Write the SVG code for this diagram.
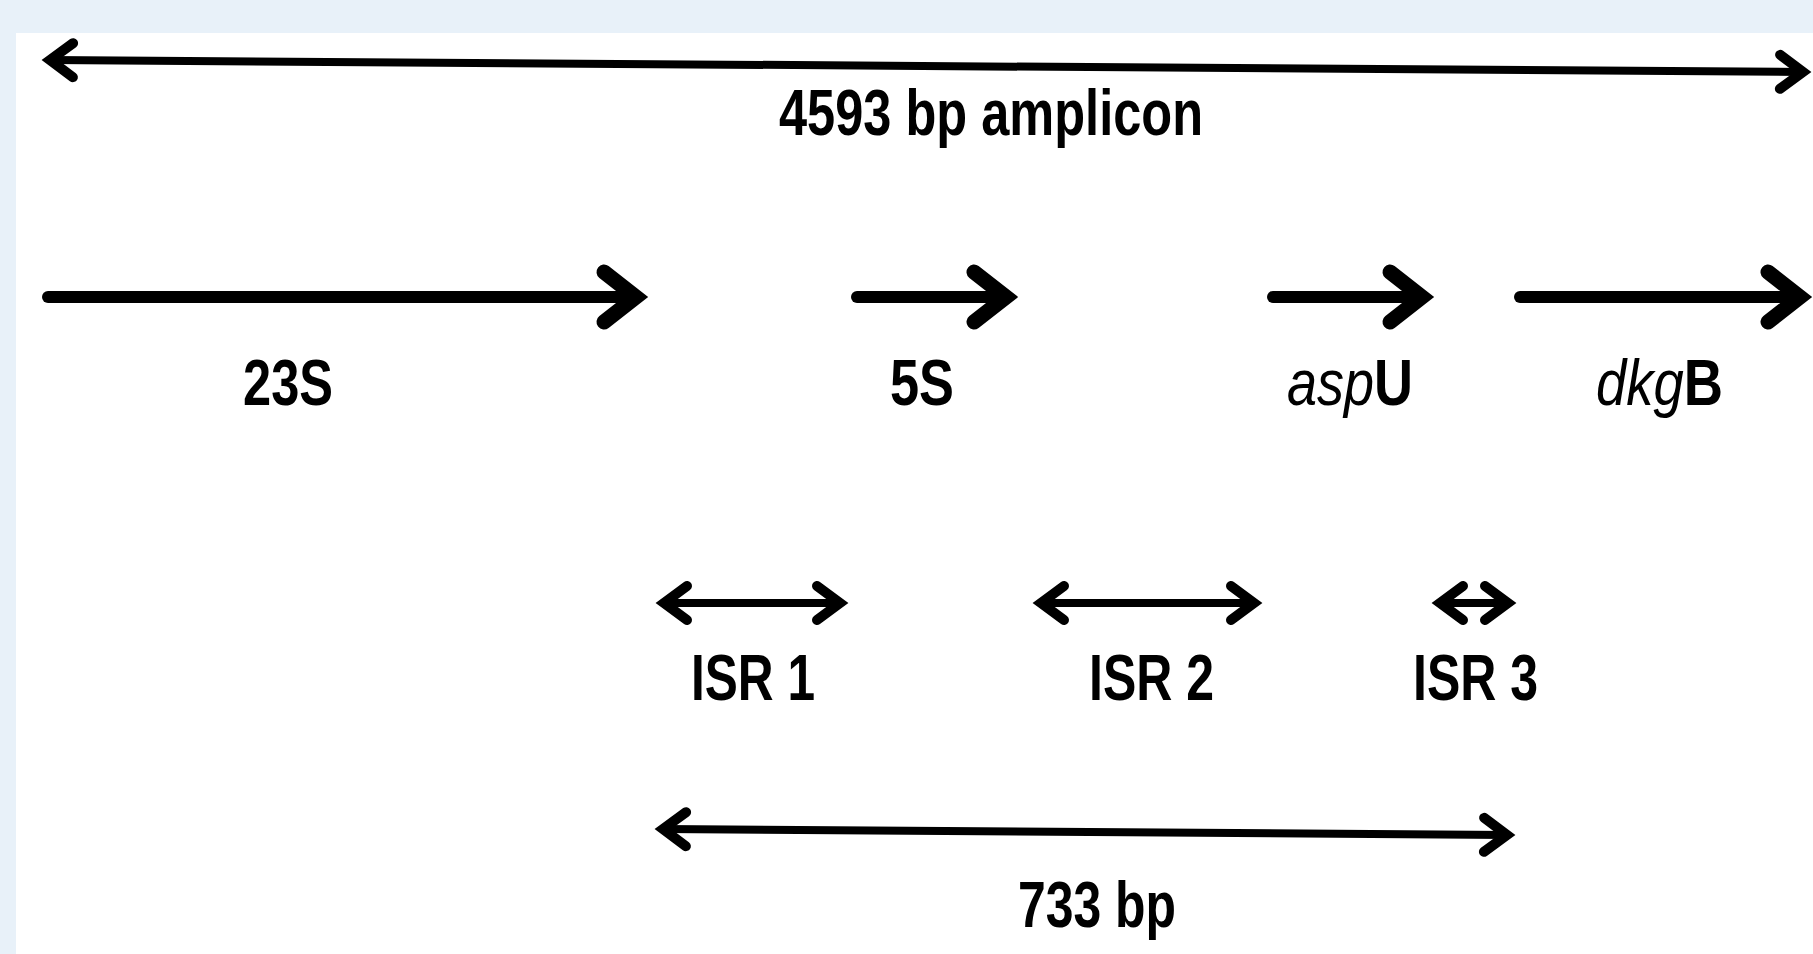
<svg xmlns="http://www.w3.org/2000/svg" width="1813" height="954" viewBox="0 0 1813 954">
<style>
.lbl{font-family:"Liberation Sans",Arial,sans-serif;font-size:64px;font-weight:bold;fill:#000}
.it{font-style:italic;font-weight:normal}
.gene{stroke:#000;stroke-width:12;fill:none;stroke-linecap:round}
.span{stroke:#000;stroke-width:8;fill:none;stroke-linecap:round}
.hd{fill:none;stroke:#000;stroke-linecap:round;stroke-linejoin:miter}
</style>
<defs>
<marker id="big" markerUnits="userSpaceOnUse" orient="auto-start-reverse" refX="-12" refY="0" markerWidth="1" markerHeight="1" overflow="visible">
<path class="hd" d="M-44,-25 L-12,0 L-44,25" stroke-width="15"/>
</marker>
<marker id="sm" markerUnits="userSpaceOnUse" orient="auto-start-reverse" refX="-9" refY="0" markerWidth="1" markerHeight="1" overflow="visible">
<path class="hd" d="M-32,-17 L-9,0 L-32,17" stroke-width="10"/>
</marker>
</defs>
<rect width="1813" height="954" fill="#e8f1f9"/>
<rect x="16" y="33" width="1797" height="921" fill="#fff"/>
<g id="connectors">
<path class="span" d="M50,60 L1803,72" marker-start="url(#sm)" marker-end="url(#sm)"/>
<path class="gene" d="M48,297 L636,297" marker-end="url(#big)"/>
<path class="gene" d="M857,297 L1006,297" marker-end="url(#big)"/>
<path class="gene" d="M1273,297 L1422,297" marker-end="url(#big)"/>
<path class="gene" d="M1520,297 L1800,297" marker-end="url(#big)"/>
<path class="span" d="M664,603 L840,603" marker-start="url(#sm)" marker-end="url(#sm)"/>
<path class="span" d="M1041,603 L1254,603" marker-start="url(#sm)" marker-end="url(#sm)"/>
<path class="span" d="M1440,603 L1508,603" marker-start="url(#sm)" marker-end="url(#sm)"/>
<path class="span" d="M663,829 L1507,835" marker-start="url(#sm)" marker-end="url(#sm)"/>
</g>
<g id="amplicon"><text class="lbl" x="779" y="135" textLength="424" lengthAdjust="spacingAndGlyphs">4593 bp amplicon</text></g>
<g id="g23S"><text class="lbl" x="243" y="405" textLength="90" lengthAdjust="spacingAndGlyphs">23S</text></g>
<g id="g5S"><text class="lbl" x="890" y="405" textLength="64" lengthAdjust="spacingAndGlyphs">5S</text></g>
<g id="aspU"><text class="lbl" x="1287" y="405" textLength="126" lengthAdjust="spacingAndGlyphs"><tspan class="it">asp</tspan>U</text></g>
<g id="dkgB"><text class="lbl" x="1596" y="405" textLength="127" lengthAdjust="spacingAndGlyphs"><tspan class="it">dkg</tspan>B</text></g>
<g id="isr1"><text class="lbl" x="691" y="700" textLength="124" lengthAdjust="spacingAndGlyphs">ISR 1</text></g>
<g id="isr2"><text class="lbl" x="1089" y="700" textLength="125" lengthAdjust="spacingAndGlyphs">ISR 2</text></g>
<g id="isr3"><text class="lbl" x="1413" y="700" textLength="125" lengthAdjust="spacingAndGlyphs">ISR 3</text></g>
<g id="bp733"><text class="lbl" x="1018" y="927" textLength="158" lengthAdjust="spacingAndGlyphs">733 bp</text></g>
</svg>
